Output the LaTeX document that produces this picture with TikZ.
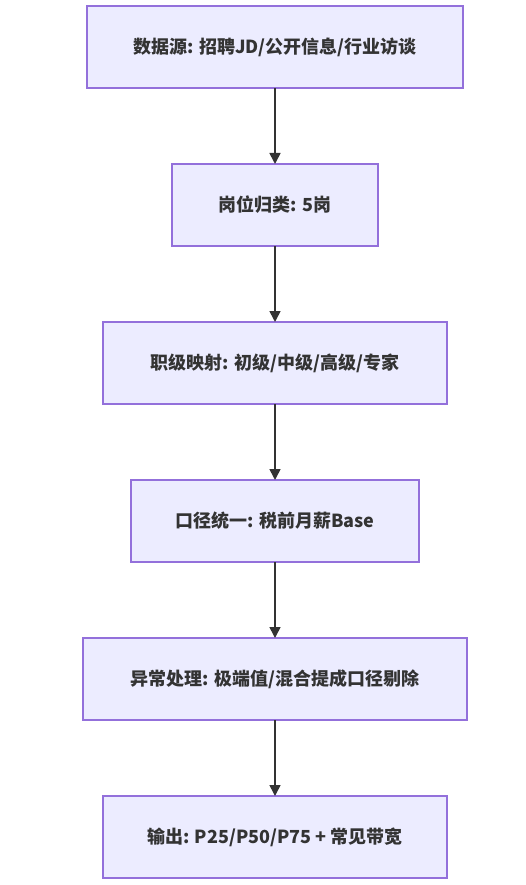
\documentclass[tikz,border=0pt]{standalone}
\usepackage{fontspec}
\newfontfamily\cjk{Noto Sans CJK SC}
\usepackage{xcolor}
\usetikzlibrary{arrows.meta,positioning}
\definecolor{boxfill}{HTML}{ECECFF}
\definecolor{boxline}{HTML}{9370DB}
\definecolor{ink}{HTML}{333333}

\begin{document}
\begin{tikzpicture}[
  x=1pt, y=1pt,
  node distance=76pt,
  box/.style={rectangle, draw=boxline, line width=1.3pt, fill=boxfill,
    minimum height=82pt, outer sep=0pt, align=center, text=ink,
    font=\cjk\bfseries\fontsize{18}{21}\selectfont},
  arr/.style={-{Triangle[length=11pt,width=11pt]}, line width=1.6pt, draw=ink}
]
\useasboundingbox (0,0) rectangle (525,-885);
\node[box, minimum width=376pt] (src) at (275,-47) {数据源: 招聘JD/公开信息/行业访谈};
\node[box, minimum width=206pt, below=of src] (cls) {岗位归类: 5岗};
\node[box, minimum width=344pt, below=of cls] (lvl) {职级映射: 初级/中级/高级/专家};
\node[box, minimum width=288pt, below=of lvl] (std) {口径统一: 税前月薪Base};
\node[box, minimum width=384pt, below=of std] (out) {异常处理: 极端值/混合提成口径剔除};
\node[box, minimum width=344pt, below=of out] (res) {输出: P25/P50/P75 + 常见带宽};
\draw[arr] (src)--(cls); \draw[arr] (cls)--(lvl); \draw[arr] (lvl)--(std);
\draw[arr] (std)--(out); \draw[arr] (out)--(res);
\end{tikzpicture}
\end{document}
